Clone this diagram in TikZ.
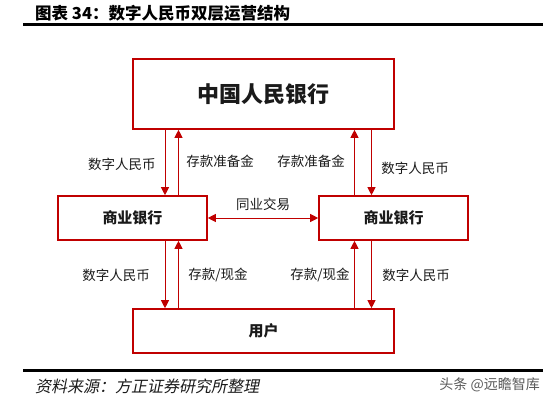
\documentclass[tikz,border=0pt]{standalone}
\usepackage{fontspec}
\setmainfont{Noto Sans CJK SC}
\newfontfamily\cjk{Noto Sans CJK SC}
\newfontfamily\cjkslant[FakeSlant=0.2]{Noto Sans CJK SC}
\usetikzlibrary{arrows.meta}
\definecolor{bred}{HTML}{C00000}
\definecolor{txt}{HTML}{1A1A1A}
\begin{document}
\begin{tikzpicture}[x=1pt,y=-1pt,
  box/.style={draw=bred,line width=1.6pt,fill=white,inner sep=0pt,text=txt},
  arr/.style={draw=bred,line width=0.9pt,-{Triangle[length=8pt,width=8pt]}},
  darr/.style={draw=bred,line width=0.9pt,{Triangle[length=8pt,width=8pt]}-{Triangle[length=8pt,width=8pt]}},
  lbl/.style={font=\cjk\fontsize{13.5}{15}\selectfont,text=txt,inner sep=0pt},
  rule/.style={line width=3pt,black}]
\useasboundingbox (0,0) rectangle (550,400);
% title
\node[anchor=west,inner sep=0pt,font=\cjk\bfseries\fontsize{16.5}{18}\selectfont] (title) at (35,13) {图表 34：数字人民币双层运营结构};
\coordinate (tl) at (23,24);
\coordinate (tr) at (543,24);
\draw[rule] (tl) -- (tr);
% boxes
\node[box,minimum width=261pt,minimum height=70pt,font=\cjk\bfseries\fontsize{22}{24}\selectfont] (pboc) at (263.5,94) {中国人民银行};
\node[box,minimum width=149pt,minimum height=44pt,font=\cjk\bfseries\fontsize{15}{17}\selectfont] (lb) at (132.5,218) {商业银行};
\node[box,minimum width=149pt,minimum height=44pt,font=\cjk\bfseries\fontsize{15}{17}\selectfont] (rb) at (393.5,218) {商业银行};
\node[box,minimum width=261pt,minimum height=44pt,font=\cjk\bfseries\fontsize{15}{17}\selectfont] (user) at (263.5,331) {用户};
% x positions of arrows
\coordinate (xa) at (165,0);
\coordinate (xb) at (178.5,0);
\coordinate (xc) at (354.5,0);
\coordinate (xd) at (371.5,0);
% upper arrows
\draw[arr] (pboc.south -| xa) -- (lb.north -| xa);
\draw[arr] (lb.north -| xb) -- (pboc.south -| xb);
\draw[arr] (rb.north -| xc) -- (pboc.south -| xc);
\draw[arr] (pboc.south -| xd) -- (rb.north -| xd);
% lower arrows
\draw[arr] (lb.south -| xa) -- (user.north -| xa);
\draw[arr] (user.north -| xb) -- (lb.south -| xb);
\draw[arr] (user.north -| xc) -- (rb.south -| xc);
\draw[arr] (rb.south -| xd) -- (user.north -| xd);
% interbank
\draw[darr] (lb.east) -- (rb.west);
% labels
\node[lbl] (l1) at (122,164) {数字人民币};
\node[lbl] (l2) at (220,161) {存款准备金};
\node[lbl] (l3) at (311,161) {存款准备金};
\node[lbl] (l4) at (415,168) {数字人民币};
\node[lbl] (l5) at (263,204) {同业交易};
\node[lbl] (l6) at (116,275) {数字人民币};
\node[lbl] (l7) at (218,275) {存款/现金};
\node[lbl] (l8) at (320,275) {存款/现金};
\node[lbl] (l9) at (416,275) {数字人民币};
% footer
\coordinate (bl) at (23,370);
\coordinate (br) at (543,370);
\draw[rule] (bl) -- (br);
\node[anchor=west,inner sep=0pt,font=\cjkslant\fontsize{16}{18}\selectfont,text=txt] (src) at (35,386) {资料来源：方正证券研究所整理};
\node[anchor=east,inner sep=0pt,font=\cjk\fontsize{14}{16}\selectfont,text=black!65] (wm) at (540,385) {头条 @远瞻智库};
\end{tikzpicture}
\end{document}
